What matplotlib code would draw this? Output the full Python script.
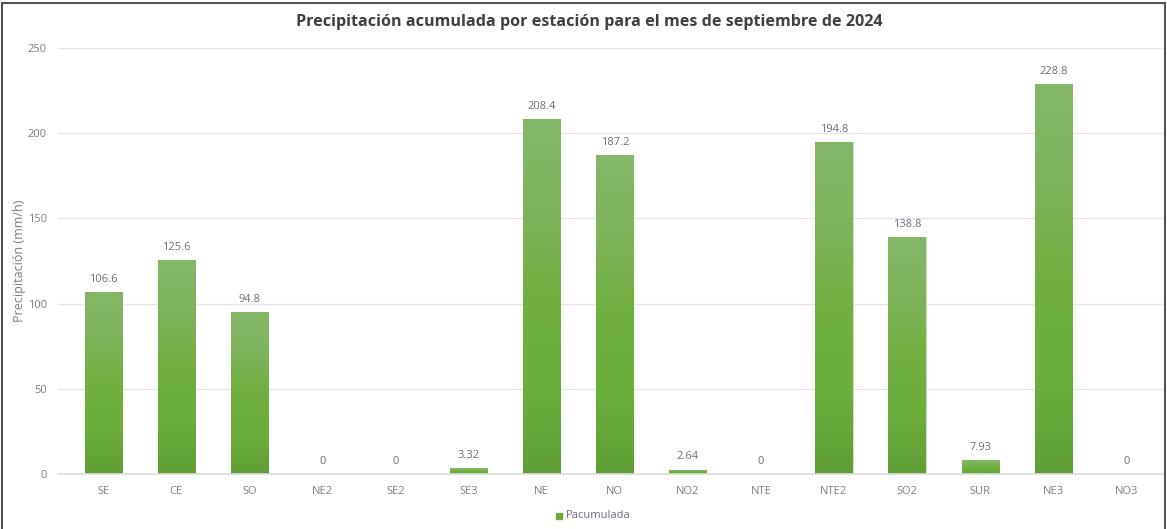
import numpy as np
import matplotlib
matplotlib.use('Agg')
import matplotlib.pyplot as plt
from matplotlib.colors import LinearSegmentedColormap
from matplotlib.patches import Rectangle

estaciones = ['SE', 'CE', 'SO', 'NE2', 'SE2', 'SE3', 'NE', 'NO', 'NO2', 'NTE',
              'NTE2', 'SO2', 'SUR', 'NE3', 'NO3']
pacumulada = [106.6, 125.6, 94.8, 0, 0, 3.32, 208.4, 187.2, 2.64, 0,
              194.8, 138.8, 7.93, 228.8, 0]
etiquetas = ['106.6', '125.6', '94.8', '0', '0', '3.32', '208.4', '187.2', '2.64', '0',
             '194.8', '138.8', '7.93', '228.8', '0']

plt.rcParams['font.family'] = ['Open Sans', 'DejaVu Sans']

fig = plt.figure(figsize=(11.67, 5.29), dpi=100)
ax = fig.add_axes([58/1167, 55/529, 1107/1167, 426/529])

x = np.arange(len(estaciones))
width = 0.51
bars = ax.bar(x, pacumulada, width=width, color='#6aaa3e', edgecolor='#cfe6c0',
              linewidth=0.6, zorder=2)

# degradado vertical en cada barra
cmap = LinearSegmentedColormap.from_list('verde', ['#5f9f36', '#6aae3b', '#70b040', '#7cb45a', '#84b868'])
grad = np.linspace(0, 1, 256).reshape(-1, 1)
for b in bars:
    h = b.get_height()
    if h <= 0:
        continue
    bx = b.get_x()
    im = ax.imshow(grad, cmap=cmap, aspect='auto', origin='lower',
                   extent=[bx, bx + b.get_width(), 0, h], zorder=2.5)
    im.set_clip_path(b)

for i in range(len(x)):
    ax.text(x[i], pacumulada[i] + 4.3, etiquetas[i], ha='center', va='bottom',
            fontsize=8, color='#6b6f78')

ax.set_xlim(-0.62, 14.53)
ax.set_ylim(0, 250)
ax.set_yticks([0, 50, 100, 150, 200, 250])
ax.set_xticks(x)
ax.set_xticklabels(estaciones)
ax.tick_params(axis='both', length=0, labelsize=8, colors='#7a7e86')
ax.tick_params(axis='x', pad=9)
ax.tick_params(axis='y', pad=8)
ax.grid(axis='y', color='#e6e6ea', linewidth=1, zorder=0)
ax.set_axisbelow(True)
for s in ['top', 'right', 'left']:
    ax.spines[s].set_visible(False)
ax.spines['bottom'].set_color('#dcdcdc')
ax.spines['bottom'].set_linewidth(1.2)

ax.set_ylabel('Precipitación (mm/h)', fontsize=9, color='#7a7e86')
ax.yaxis.set_label_coords(-0.029, 0.5)

fig.text(0.505, 0.958, 'Precipitación acumulada por estación para el mes de septiembre de 2024',
         ha='center', va='center', fontsize=11.6, fontweight='bold', color='#404040')

# leyenda
fig.patches.append(Rectangle((556/1167, 1 - 519/529), 6/1167, 6/529,
                             transform=fig.transFigure, color='#6aaa3e', figure=fig))
fig.text(566/1167, 1 - 515/529, 'Pacumulada', ha='left', va='center', fontsize=8, color='#6b6f78')

# marco
fig.patches.append(Rectangle((0.002, -0.01), 0.996, 1.004, transform=fig.transFigure,
                             fill=False, edgecolor='#555555', linewidth=1.5, figure=fig))

plt.savefig('out.png', dpi=100)
